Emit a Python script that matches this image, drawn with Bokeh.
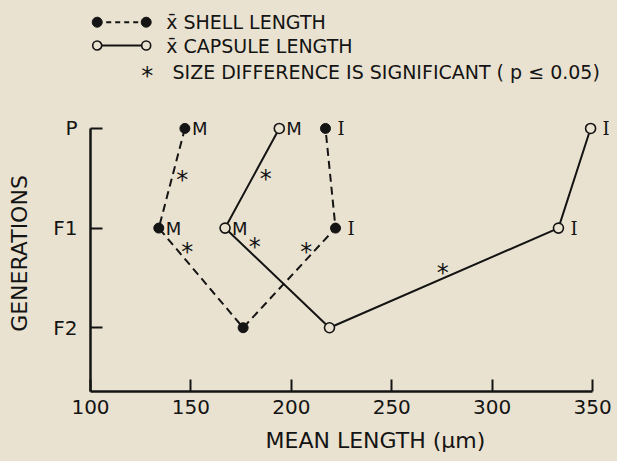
from bokeh.plotting import figure
from bokeh.layouts import column
from bokeh.models import Range1d, FixedTicker, Title
from bokeh.embed import file_html
from bokeh.resources import INLINE
from bokeh.core.properties import value

# ---------------- data ----------------
generations = ["P", "F1", "F2"]
gen_pos = [3, 2, 1]
shell_m = [147, 134, 176]      # mean shell length, M line
shell_i = [217, 222, 176]      # mean shell length, I line
capsule_m = [194, 167, 219]    # mean capsule length, M line
capsule_i = [349, 333, 219]    # mean capsule length, I line
x_ticks = [100, 150, 200, 250, 300, 350]
# significance asterisks (positions)
sig_x = [145.7, 187.2, 148.2, 181.8, 207.4, 275.4]
sig_y = [2.52, 2.53, 1.80, 1.85, 1.80, 1.59]

legend_texts = ["x\u0304 SHELL LENGTH", "x\u0304 CAPSULE LENGTH",
                "SIZE DIFFERENCE IS SIGNIFICANT ( p \u2264 0.05)"]

# ---------------- style / layout ----------------
BG = "#EAE2D0"
INK = "#141414"
FONT = "DejaVu Sans"
W = 617
H_LEG = 115
H_MAIN = 346
LEFT, BOTTOM = 90, 69
X0, X1 = 100, 362.4
Y0, Y1 = 0.36, 3.13
AST_DY = 4

# ---------------- legend strip (pixel coordinates) ----------------
leg = figure(width=W, height=H_LEG, output_backend="svg", toolbar_location=None,
             x_range=Range1d(LEFT, W), y_range=Range1d(H_LEG, 0),
             x_axis_type=None, y_axis_type=None,
             min_border_left=LEFT, min_border_right=0,
             min_border_top=0, min_border_bottom=0)
leg.background_fill_color = BG
leg.border_fill_color = BG
leg.outline_line_color = None

rows = [21.7, 45, 71.7]
ka, kb, ks = 96.7, 145.7, 146.7
text_x = [165.7, 165.7, 172]
leg.line([ka, kb], [rows[0], rows[0]], line_color=INK, line_width=2, line_dash="5 4")
leg.scatter([ka, kb], [rows[0], rows[0]], size=10, fill_color=INK, line_color=INK)
leg.line([ka, kb], [rows[1], rows[1]], line_color=INK, line_width=2)
leg.scatter([ka, kb], [rows[1], rows[1]], size=9, fill_color=BG, line_color=INK, line_width=1.6)
leg.text([ks], [rows[2]], text=["*"], text_align="center", text_baseline="alphabetic",
         y_offset=AST_DY, text_font=value(FONT), text_font_size="24px", text_color=INK)
leg.text(text_x, rows, text=legend_texts, text_baseline="middle",
         text_font=value(FONT), text_font_size="19px", text_color=INK)

# ---------------- main plot ----------------
p = figure(width=W, height=H_MAIN, output_backend="svg", toolbar_location=None,
           x_range=Range1d(X0, X1), y_range=Range1d(Y0, Y1),
           min_border_left=LEFT, min_border_bottom=BOTTOM,
           min_border_right=0, min_border_top=0)
p.background_fill_color = BG
p.border_fill_color = BG
p.outline_line_color = None
p.xgrid.visible = False
p.ygrid.visible = False

for ax in (p.xaxis[0], p.yaxis[0]):
    ax.axis_line_width = 2.5
    ax.axis_line_color = INK
    ax.major_tick_line_width = 2
    ax.major_tick_line_color = INK
    ax.major_tick_in = 12
    ax.major_tick_out = 0
    ax.minor_tick_in = 0
    ax.minor_tick_out = 0
    ax.major_label_text_font = FONT
    ax.major_label_text_font_size = "20px"
    ax.major_label_text_color = INK

p.xaxis.ticker = FixedTicker(ticks=x_ticks)
p.xaxis.bounds = (x_ticks[0], x_ticks[-1])
p.xaxis.major_label_standoff = 8
p.yaxis.ticker = FixedTicker(ticks=gen_pos)
p.yaxis.major_label_overrides = {g: n for g, n in zip(gen_pos, generations)}
p.yaxis.bounds = (Y0, max(gen_pos))
p.yaxis.major_label_standoff = 13
p.yaxis.axis_label = "GENERATIONS"
p.yaxis.axis_label_text_font = FONT
p.yaxis.axis_label_text_font_size = "22px"
p.yaxis.axis_label_text_font_style = "normal"
p.yaxis.axis_label_text_color = INK
p.yaxis.axis_label_standoff = 18

p.add_layout(Title(text="MEAN LENGTH (\u03bcm)", align="left", offset=175,
                   vertical_align="bottom", standoff=18,
                   text_font=FONT, text_font_size="22px", text_font_style="normal",
                   text_color=INK), "below")

# lines
shell_x = shell_m + shell_i[-2::-1]
shell_y = gen_pos + gen_pos[-2::-1]
cap_x = capsule_m + capsule_i[-2::-1]
cap_y = gen_pos + gen_pos[-2::-1]

p.line(shell_x, shell_y, line_color=INK, line_width=2, line_dash="8 5")
p.line(cap_x, cap_y, line_color=INK, line_width=2)
p.scatter(shell_x, shell_y, size=10, marker="circle", fill_color=INK, line_color=INK)
p.scatter(cap_x, cap_y, size=10, marker="circle", fill_color=BG, line_color=INK, line_width=1.6)

# point labels (P and F1 only)
m_x = shell_m[:2] + capsule_m[:2]
m_y = gen_pos[:2] + gen_pos[:2]
i_x = shell_i[:2] + capsule_i[:2]
i_y = gen_pos[:2] + gen_pos[:2]
p.text(m_x, m_y, text=["M"] * len(m_x), x_offset=7, text_baseline="middle",
       text_font=value(FONT), text_font_size="18px", text_color=INK)
p.text(i_x, i_y, text=["I"] * len(i_x), x_offset=12, text_baseline="middle",
       text_font=value("DejaVu Serif"), text_font_size="18px", text_color=INK)

# significance asterisks
p.text(sig_x, sig_y, text=["*"] * len(sig_x), text_align="center",
       text_baseline="alphabetic", y_offset=AST_DY,
       text_font=value(FONT), text_font_size="24px", text_color=INK)

layout = column(leg, p, spacing=0, styles={"background-color": BG})
open("out.html", "w").write(file_html(layout, INLINE))
